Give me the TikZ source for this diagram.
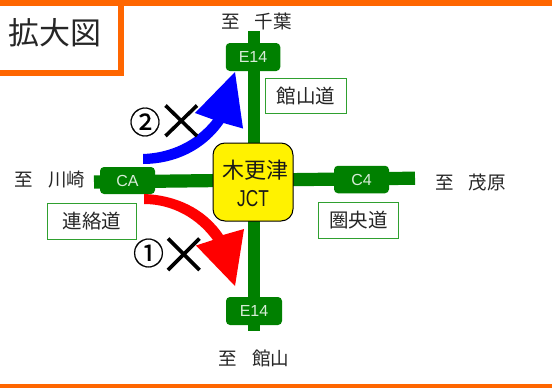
\documentclass[tikz,border=0pt]{standalone}
\usepackage{fontspec}
\setmainfont{Noto Sans CJK JP}
\newfontfamily\latinfont{Liberation Sans}
\newfontfamily\circfont[FakeBold=0.5]{Noto Sans CJK JP}
\definecolor{roadgreen}{HTML}{008000}
\definecolor{frameorange}{HTML}{FF6600}
\definecolor{labelgreen}{HTML}{2FA02F}
\definecolor{signtext}{HTML}{D8ECD8}
\newcommand{\fs}[1]{\fontsize{#1}{#1}\selectfont}
\tikzset{
  road/.style={draw=roadgreen,line width=13.2pt},
  sign/.style={fill=roadgreen,draw=none,rounded corners=4pt,text=signtext,inner sep=0pt,font=\latinfont\fs{16}},
  roadname/.style={draw=labelgreen,line width=1pt,fill=white,inner sep=0pt,font=\fs{19.5},text=black!85},
  dest/.style={inner sep=0pt,font=\fs{18.5},text=black!85},
  crossmark/.style={draw=black,line width=3.6pt},
  frame/.style={fill=frameorange,draw=none}
}
\begin{document}
\begin{tikzpicture}[x=1pt,y=-1pt]
\useasboundingbox (0,0) rectangle (552,388);
\fill[white] (0,0) rectangle (552,388);
% frame
\fill[frame] (0,0) rectangle (552,6);
\fill[frame] (0,384) rectangle (552,388);
\fill[frame] (118,0) rectangle (123.5,75);
\fill[frame] (0,70) rectangle (123.5,75.5);
\node[inner sep=0pt,font=\fs{31},text=black!85] (title) at (55,32.5) {拡大図};
% roads
\coordinate (n) at (253.8,31);
\coordinate (s) at (253.8,331);
\coordinate (w) at (94,182);
\coordinate (e) at (415,178.2);
\draw[road,line width=12.6pt] (n) -- (s);
\draw[road] (w) -- (e);
% signs
\node[sign,minimum width=54.5pt,minimum height=28pt] (e14n) at (253,57) {E14};
\node[sign,minimum width=56pt,minimum height=28pt] (e14s) at (254,311) {E14};
\node[sign,minimum width=55pt,minimum height=27pt] (ca) at (127.5,180.5) {CA};
\node[sign,minimum width=55pt,minimum height=27.5pt] (c4) at (361.5,179.5) {C4};
% junction
\node[draw=black,line width=1pt,fill=yellow,rounded corners=12pt,minimum width=80pt,minimum height=78pt,inner sep=0pt] (jct) at (253,182) {};
\node[inner sep=0pt,font=\fs{22},text=black!90] (jctname) at (255,170.5) {木更津};
\node[inner sep=0pt,font=\latinfont\fs{23},text=black!90,xscale=0.75] (jctlabel) at (253,198.5) {JCT};
% road name labels
\node[roadname,minimum width=81pt,minimum height=35.5pt] (tateyama) at (306,96) {館山道};
\node[roadname,minimum width=89pt,minimum height=36pt] (renraku) at (92,221.5) {連絡道};
\node[roadname,minimum width=80.5pt,minimum height=36pt] (kenou) at (358.5,220.5) {圏央道};
% destinations
\node[dest] (dn) at (256.5,21) {至\hspace{15pt}千葉};
\node[dest] (dw) at (50,179.5) {至\hspace{15pt}川崎};
\node[dest] (de) at (470.5,182) {至\hspace{15pt}茂原};
\node[dest] (ds) at (254,358) {至\hspace{15pt}館山};
% arrows
\fill[blue] (143,154) .. controls (170,153) and (195,142) .. (213,119.5)
  -- (195,113) -- (235,72) -- (243,128.5) -- (223.5,123)
  .. controls (205,150) and (175,164) .. (143,164) -- cycle;
\fill[red] (144,194) .. controls (175,195) and (205,208) .. (223,235)
  -- (244,229) -- (235,286) -- (196,245.5) -- (213,240)
  .. controls (197,218) and (172,204) .. (144,204) -- cycle;
% circled numbers and crosses
\node[inner sep=0pt,font=\circfont\fs{31},text=black] (two) at (145,122) {②};
\node[inner sep=0pt,font=\circfont\fs{31},text=black] (one) at (148.5,253) {①};
\draw[crossmark] (165.5,105.5) -- (197,136);
\draw[crossmark] (165.5,136) -- (197,105.5);
\draw[crossmark] (168,238.5) -- (199.5,270);
\draw[crossmark] (168,270) -- (199.5,238.5);
\end{tikzpicture}
\end{document}
